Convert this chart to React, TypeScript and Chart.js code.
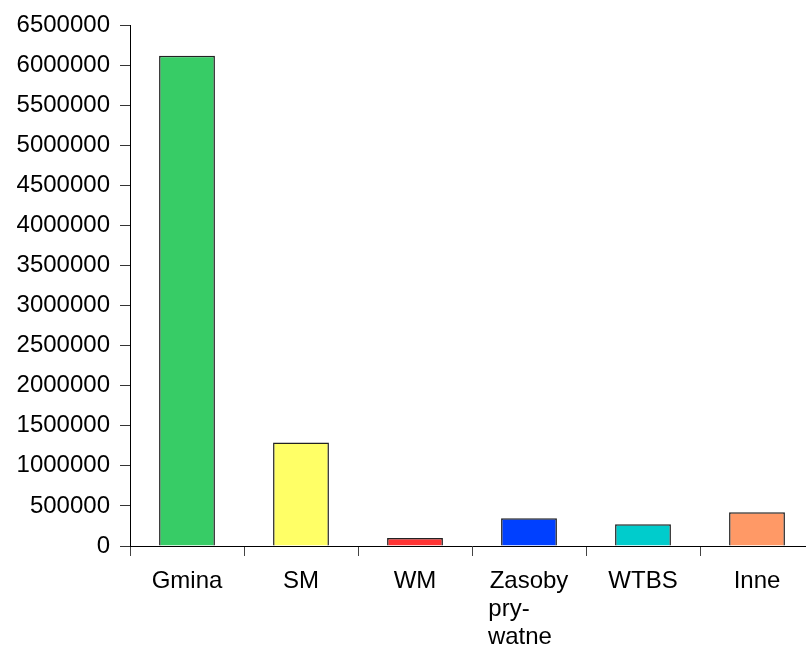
import React, { useEffect, useRef } from "react";
import { Chart, registerables } from "chart.js";

Chart.register(...registerables);

const categories: (string | string[])[] = ["Gmina", "SM", "WM", ["Zasoby", "pry-      ", "watne  \u2009"], "WTBS", "Inne"];
const values: number[] = [6115000, 1290000, 100000, 345000, 270000, 420000];
const fillColors: string[] = ["#37CC66", "#FFFF66", "#FF3333", "#0040FF", "#00CCCC", "#FF9966"];
const borderColor = "#222222";
const yMin = 0;
const yMax = 6500000;
const yStep = 500000;

export default function App() {
  const ref = useRef<HTMLCanvasElement | null>(null);
  useEffect(() => {
    if (!ref.current) return;
    const font = { family: "'Liberation Sans', Arial, sans-serif", size: 24 };
    const chart = new Chart(ref.current, {
      type: "bar",
      data: {
        labels: categories,
        datasets: [
          {
            data: values,
            backgroundColor: fillColors,
            borderColor: borderColor,
            borderWidth: 1.5,
            categoryPercentage: 1,
            barPercentage: 0.49,
          },
        ],
      },
      options: {
        animation: false,
        responsive: false,
        devicePixelRatio: 1,
        layout: { padding: { top: 25, right: 0, bottom: 0, left: 0 } },
        plugins: { legend: { display: false }, tooltip: { enabled: false } },
        scales: {
          x: {
            type: "category",
            offset: true,
            grid: { offset: true, drawOnChartArea: false, drawTicks: true, tickLength: 10, color: "#444" },
            border: { display: true, color: "#000", width: 1 },
            ticks: { color: "#000", font: { ...font, lineHeight: 1.15 }, padding: 12, maxRotation: 0, autoSkip: false },
            afterFit: (s: any) => {
              s.height = 102;
            },
          },
          y: {
            min: yMin,
            max: yMax,
            grid: { drawOnChartArea: false, drawTicks: true, tickLength: 10, color: "#333" },
            border: { display: true, color: "#000", width: 1 },
            ticks: {
              stepSize: yStep,
              color: "#000",
              font,
              padding: 10,
              callback: (v: any) => String(v),
            },
            afterFit: (s: any) => {
              s.width = 130;
            },
          },
        },
      },
    });
    return () => chart.destroy();
  }, []);
  return (
    <div style={{ position: "absolute", left: 0, top: 0, width: 806, height: 648, overflow: "hidden", background: "#fff" }}>
      <canvas ref={ref} width={814} height={648} style={{ display: "block" }} />
    </div>
  );
}
